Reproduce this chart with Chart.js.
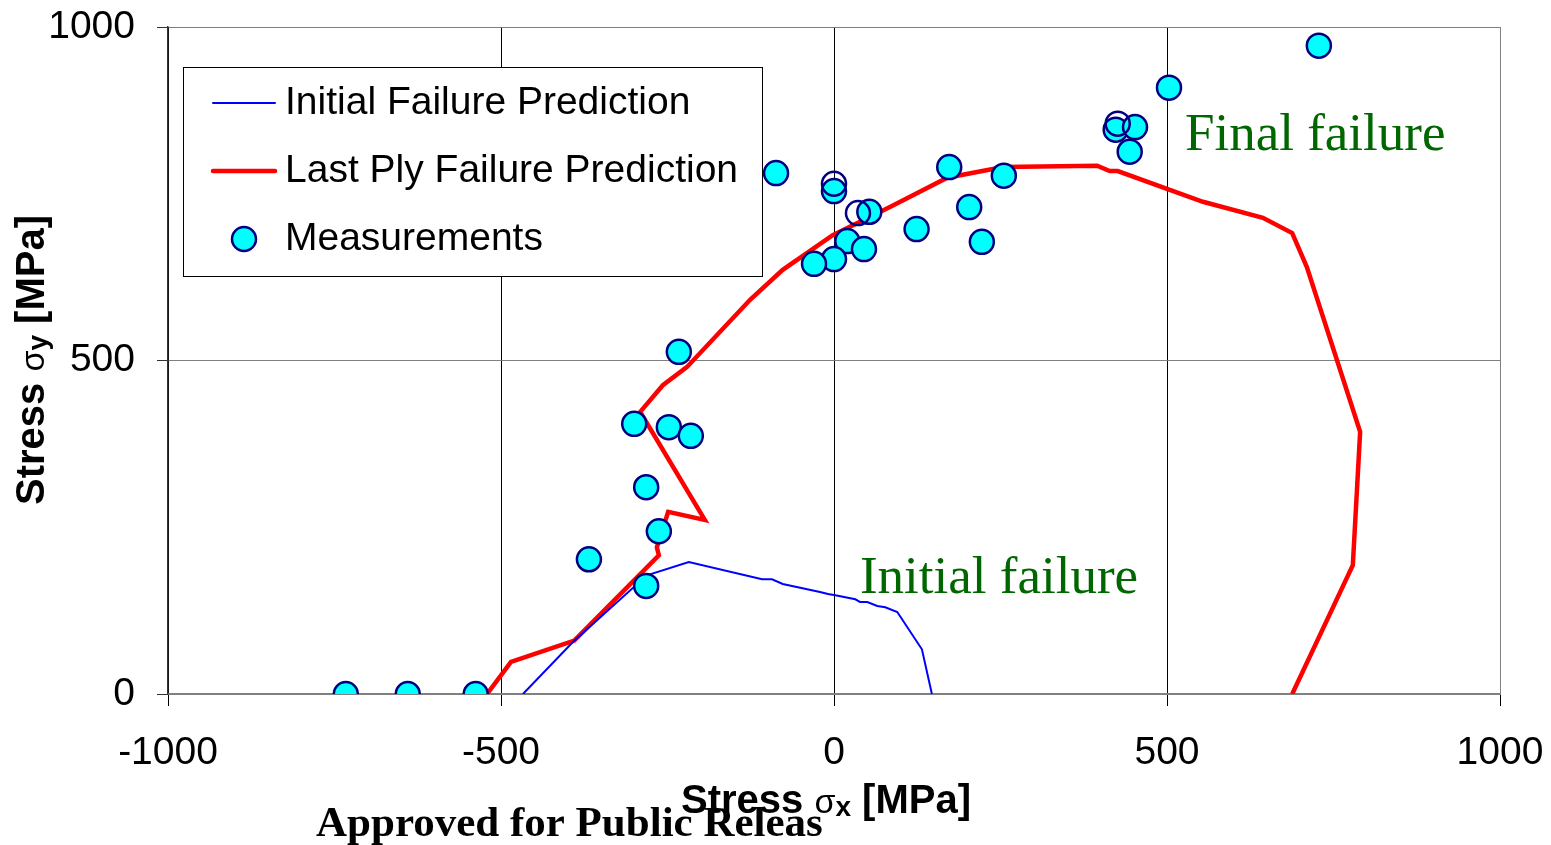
<!DOCTYPE html>
<html>
<head>
<meta charset="utf-8">
<script src="https://cdn.jsdelivr.net/npm/chart.js@4.4.1/dist/chart.umd.min.js"></script>
<style>
  body { margin: 0; background: #fff; }
  #wrap { width: 1551px; height: 845px; }
</style>
</head>
<body>
<div id="wrap"><canvas id="failChart" width="1551" height="845"></canvas></div>
<script>
// axis ticks
const xTicks = [-1000, -500, 0, 500, 1000];
const yTicks = [0, 500, 1000];

// Initial failure prediction (blue)
const initX = [-467, -392, -281, -218, -108, -93, -77, -21, -9, 2, 32, 39, 50, 65, 77, 95, 132, 147];
const initY = [0, 78, 178, 198, 172, 172, 165, 153, 150, 148, 142, 138, 138, 132, 130, 123, 67, 0];

// Last ply failure prediction (red)
const lastX = [-521, -485, -390, -263, -266, -249, -194, -291, -257, -221, -126, -77, -2, 84, 170, 254, 395, 414, 426, 554, 644, 688, 710, 790, 779, 688];
const lastY = [0, 48, 80, 208, 220, 273, 261, 423, 463, 490, 591, 636, 688, 730, 774, 790, 792, 784, 784, 738, 714, 691, 640, 393, 193, 0];

// measurements
const measX = [-733, -640, -538, -368, -282, -263, -282, -300, -248, -215, -233, -87, 0, 53, 20, 45, 0, -30, 124, 173, 203, 222, 255, 503, 728, 423, 452, 444];
const measY = [0, 0, 0, 202, 162, 244, 310, 405, 400, 387, 513, 781, 754, 723, 679, 667, 652, 645, 697, 790, 730, 678, 777, 909, 972, 846, 850, 813];
// measurements drawn as open circles
const openX = [0, 36, 426];
const openY = [765, 721, 855];

const labels = ['Initial Failure Prediction', 'Last Ply Failure Prediction', 'Measurements'];
const notes = [
  { text: 'Final failure', x: 527, y: 816 },
  { text: 'Initial failure', x: 39, y: 151 }
];

const pts = (xs, ys) => xs.map((x, i) => ({ x: x, y: ys[i] }));

const SANS = "'Liberation Sans', Arial, sans-serif";
const SERIF = "'Liberation Serif', 'Times New Roman', serif";

// draws legend box, text notes and the axis titles
const decor = {
  id: 'decor',
  afterDraw(chart) {
    const ctx = chart.ctx;
    const xs = chart.scales.x, ys = chart.scales.y;
    ctx.save();

    // legend
    ctx.fillStyle = '#fff';
    ctx.fillRect(183, 67, 579, 209);
    ctx.strokeStyle = '#000';
    ctx.lineWidth = 1;
    ctx.strokeRect(183.5, 67.5, 579, 209);
    ctx.lineCap = 'round';
    ctx.strokeStyle = '#0000ff';
    ctx.lineWidth = 2;
    ctx.beginPath(); ctx.moveTo(213, 103); ctx.lineTo(275, 103); ctx.stroke();
    ctx.strokeStyle = '#ff0000';
    ctx.lineWidth = 4.5;
    ctx.beginPath(); ctx.moveTo(213, 171); ctx.lineTo(275, 171); ctx.stroke();
    ctx.beginPath(); ctx.arc(244, 239, 12, 0, Math.PI * 2);
    ctx.fillStyle = '#00ffff'; ctx.fill();
    ctx.strokeStyle = '#000080'; ctx.lineWidth = 2.5; ctx.stroke();
    ctx.fillStyle = '#000';
    ctx.font = '39px ' + SANS;
    ctx.textBaseline = 'middle';
    ctx.textAlign = 'left';
    labels.forEach((t, i) => ctx.fillText(t, 285, 103 + i * 68));

    // notes
    ctx.fillStyle = '#006600';
    ctx.font = '53px ' + SERIF;
    ctx.textBaseline = 'alphabetic';
    notes.forEach(n => ctx.fillText(n.text, xs.getPixelForValue(n.x), ys.getPixelForValue(n.y)));

    // axis titles with sigma + subscript
    const parts = sub => [
      { t: 'Stress ', f: 'bold 40px ' + SANS, dy: 0 },
      { t: 'σ', f: '34px ' + SANS, dy: 2 },
      { t: sub, f: 'bold 28px ' + SANS, dy: 6 },
      { t: ' [MPa]', f: 'bold 40px ' + SANS, dy: 0 }
    ];
    const drawTitle = (cx, cy, rot, sub) => {
      const p = parts(sub);
      let w = 0;
      p.forEach(s => { ctx.font = s.f; s.w = ctx.measureText(s.t).width; w += s.w; });
      ctx.save();
      ctx.translate(cx, cy);
      ctx.rotate(rot);
      ctx.fillStyle = '#000';
      ctx.textBaseline = 'middle';
      let x = -w / 2;
      p.forEach(s => { ctx.font = s.f; ctx.fillText(s.t, x, s.dy); x += s.w; });
      ctx.restore();
    };
    drawTitle(826, 802, 0, 'x');
    drawTitle(33, 360, -Math.PI / 2, 'y');

    // stray stamp text at the bottom
    ctx.fillStyle = '#000';
    ctx.font = 'bold 43px ' + SERIF;
    ctx.textBaseline = 'alphabetic';
    ctx.fillText('Approved for Public Releas', 316, 836);
    ctx.restore();
  }
};

const ctx = document.getElementById('failChart').getContext('2d');

let failChart = new Chart(ctx, {
  type: 'scatter',
  data: {
    datasets: [
      {
        label: labels[2],
        data: pts(openX, openY),
        pointRadius: 12,
        pointBorderWidth: 2.5,
        pointBackgroundColor: 'rgba(255,255,255,0)',
        pointBorderColor: '#000080'
      },
      {
        label: labels[2],
        data: pts(measX, measY),
        pointRadius: 12,
        pointBorderWidth: 2.5,
        pointBackgroundColor: '#00ffff',
        pointBorderColor: '#000080'
      },
      {
        label: labels[0],
        data: pts(initX, initY),
        showLine: true,
        borderColor: '#0000ff',
        borderWidth: 2,
        pointRadius: 0,
        tension: 0
      },
      {
        label: labels[1],
        data: pts(lastX, lastY),
        showLine: true,
        borderColor: '#ff0000',
        borderWidth: 4.5,
        pointRadius: 0,
        tension: 0
      }
    ]
  },
  options: {
    responsive: false,
    animation: false,
    layout: { padding: { top: 27, right: 51, left: 0, bottom: 0 } },
    scales: {
      x: {
        type: 'linear',
        min: -1000,
        max: 1000,
        afterBuildTicks: s => { s.ticks = xTicks.map(v => ({ value: v })); },
        afterFit: s => { s.height = 151; s.paddingLeft = 0; s.paddingRight = 0; },
        ticks: { color: '#000', font: { size: 39, family: SANS }, padding: 24, maxRotation: 0, callback: v => String(v) },
        grid: {
          color: c => (c.tick && c.tick.value === 1000 ? '#808080' : '#000'),
          lineWidth: 1,
          tickLength: 12,
          tickColor: '#000'
        },
        border: { color: '#808080', width: 2 }
      },
      y: {
        type: 'linear',
        min: 0,
        max: 1000,
        afterBuildTicks: s => { s.ticks = yTicks.map(v => ({ value: v })); },
        afterFit: s => { s.width = 168; s.paddingTop = 0; s.paddingBottom = 0; },
        ticks: { color: '#000', font: { size: 39, family: SANS }, padding: 22, callback: v => String(v) },
        grid: { color: '#808080', lineWidth: 1, tickLength: 11, tickColor: '#333' },
        border: { color: '#333', width: 1.5 }
      }
    },
    plugins: {
      legend: { display: false },
      tooltip: { enabled: false }
    }
  },
  plugins: [decor]
});
</script>
</body>
</html>
